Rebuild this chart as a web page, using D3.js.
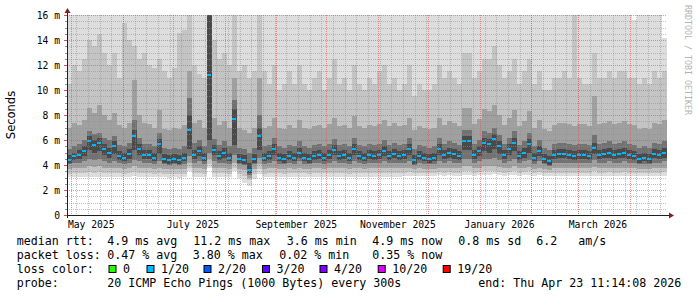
<!DOCTYPE html>
<html><head><meta charset="utf-8">
<script src="https://cdn.jsdelivr.net/npm/d3@7"></script>
<style>
html,body{margin:0;padding:0;background:#fff;}
svg{display:block;}
</style></head><body>
<svg id="chart" width="697" height="297"></svg>
<script>
// ---- data (ms), one value per 3-day step, 28 Apr 2025 -> 23 Apr 2026 ----
const stepDays = 3;
const median = [
4.4,4.7,4.8,5.1,5.9,5.6,5.8,5.3,5.0,5.5,
4.7,4.6,4.9,6.3,5.3,4.8,4.8,4.6,5.7,4.5,
4.4,4.5,4.4,4.6,6.8,4.8,5.1,4.6,11.2,5.2,
4.7,5.0,4.6,7.7,4.5,4.4,3.6,4.5,6.3,4.6,
4.7,5.3,4.6,4.5,4.7,4.6,5.0,4.6,4.5,4.7,
4.8,4.6,4.8,5.2,4.7,4.8,4.6,5.3,4.7,4.6,
4.8,4.7,4.8,5.1,4.7,4.9,4.7,4.8,5.3,4.4,
4.7,4.6,4.5,4.6,5.3,4.8,5.0,4.9,4.7,5.9,
5.9,4.8,5.1,5.8,5.7,6.1,5.5,4.8,5.3,5.8,
4.7,5.0,5.7,4.6,5.1,4.5,4.3,4.8,4.9,4.9,
4.8,4.7,4.8,4.8,4.7,5.4,4.8,4.9,5.0,4.8,
4.9,5.0,4.8,4.7,4.5,4.6,4.5,4.9,4.8,5.0];
const pMax = [
17,17,17,17,17,17,17,17,17,17, 17,17,17,17,17,17,17,17,17,17,
17,17,17,17,17,17,17,17,17,17, 17,17,17,17,17,17,17,17,17,17,
17,17,17,17,17,17,17,17,17,17, 17,17,17,17,17,17,17,17,17,17,
17,17,17,17,17,17,17,17,17,17, 17,17,17,17,17,17,17,17,17,17,
17,17,17,17,17,17,17,17,17,17, 17,17,17,17,17,17,17,17,17,17,
17,17,17,17,17,17,17,17,17,17, 17,17,17,15.6,17,17,17,17,17,14.2];
const pHi2 = [
10.5,12.0,11.5,12.5,14.0,13.5,14.5,13.0,12.0,13.0,
11.0,15.4,14.0,13.5,12.5,13.0,12.0,11.8,12.5,11.5,
11.0,11.8,14.6,14.8,16.5,12.0,11.3,11.0,16.5,14.0,
12.5,13.0,12.0,16.5,11.5,12.0,11.0,11.5,16.5,11.5,
10.5,12.0,10.0,10.5,11.5,10.5,12.0,10.5,10.0,11.0,
11.5,10.0,11.0,12.5,10.5,11.0,10.0,12.0,10.5,10.0,
11.0,10.5,11.5,12.0,10.5,11.0,10.0,10.5,12.0,9.5,
10.5,10.0,10.0,10.5,12.0,11.0,11.5,11.0,10.5,13.0,
13.0,11.0,11.5,12.5,12.5,13.5,12.0,11.0,11.5,12.5,
10.5,11.5,12.5,10.5,11.5,10.0,10.0,11.0,11.0,11.5,
11.0,16.5,11.0,10.5,10.5,13.0,11.0,11.0,11.5,11.0,
11.5,11.5,11.0,11.0,10.5,11.0,10.5,11.5,11.0,11.5];
const pHi3 = [
7.0,7.4,7.2,7.6,8.6,8.2,8.8,8.0,7.6,8.2,
7.2,7.0,7.4,10.8,8.0,7.4,7.3,7.0,8.4,6.9,
6.8,7.0,6.9,7.2,11.5,7.4,7.6,7.0,16.5,7.8,
7.2,7.5,7.0,11.0,7.0,6.8,6.6,7.0,11.0,7.0,
7.1,7.8,7.0,6.9,7.2,7.0,7.6,7.0,6.9,7.1,
7.2,7.0,7.3,7.8,7.1,7.2,7.0,7.9,7.1,7.0,
7.2,7.1,7.3,7.6,7.1,7.4,7.1,7.2,7.8,6.8,
7.1,7.0,6.9,7.0,7.8,7.2,7.5,7.4,7.1,8.6,
8.6,7.3,7.7,8.5,8.3,8.8,8.0,7.2,7.8,8.4,
7.1,7.5,8.3,7.0,7.6,6.9,6.7,7.2,7.4,7.4,
7.3,7.1,7.3,7.3,7.1,9.5,7.3,7.4,7.5,7.3,
7.4,7.5,7.3,7.2,6.9,7.0,6.9,7.4,7.3,7.6];
const pHi4 = [
5.3,5.5,5.7,6.0,6.7,6.5,6.6,6.2,6.0,6.3,
5.6,5.5,5.8,7.6,6.2,5.7,5.7,5.5,6.6,5.4,
5.3,5.4,5.3,5.5,9.4,5.8,6.0,5.5,16.5,6.1,
5.6,5.9,5.5,9.2,5.4,5.3,5.0,5.4,8.0,5.5,
5.6,6.2,5.5,5.4,5.6,5.5,5.9,5.5,5.4,5.6,
5.7,5.5,5.7,6.1,5.6,5.7,5.5,6.2,5.6,5.5,
5.7,5.6,5.7,6.0,5.6,5.8,5.6,5.7,6.2,5.3,
5.6,5.5,5.4,5.5,6.2,5.7,5.9,5.8,5.6,6.8,
6.8,5.7,6.0,6.7,6.6,7.0,6.4,5.7,6.2,6.7,
5.6,5.9,6.6,5.5,6.0,5.4,5.2,5.7,5.8,5.8,
5.7,5.6,5.7,5.7,5.6,6.4,5.7,5.8,5.9,5.7,
5.8,5.9,5.7,5.6,5.4,5.5,5.4,5.8,5.7,5.9];
const pHi5 = [
4.8,5.0,5.2,5.5,6.3,6.0,6.2,5.7,5.4,5.9,
5.1,5.0,5.3,6.8,5.7,5.2,5.2,5.0,6.1,4.9,
4.8,4.9,4.8,5.0,8.0,5.2,5.5,5.0,16.5,5.6,
5.1,5.4,5.0,8.5,4.9,4.8,4.2,4.9,7.0,5.0,
5.1,5.7,5.0,4.9,5.1,5.0,5.4,5.0,4.9,5.1,
5.2,5.0,5.2,5.6,5.1,5.2,5.0,5.7,5.1,5.0,
5.2,5.1,5.2,5.5,5.1,5.3,5.1,5.2,5.7,4.8,
5.1,5.0,4.9,5.0,5.7,5.2,5.4,5.3,5.1,6.3,
6.3,5.2,5.5,6.2,6.1,6.5,5.9,5.2,5.7,6.2,
5.1,5.4,6.1,5.0,5.5,4.9,4.7,5.2,5.3,5.3,
5.2,5.1,5.2,5.2,5.1,5.8,5.2,5.3,5.4,5.2,
5.3,5.4,5.2,5.1,4.9,5.0,4.9,5.3,5.2,5.4];
const pLo5 = [
4.2,4.4,4.5,4.7,5.2,5.0,5.1,4.8,4.6,4.9,
4.4,4.3,4.5,5.2,4.8,4.5,4.5,4.3,4.9,4.2,
4.1,4.2,4.1,4.3,5.3,4.5,4.7,4.3,6.0,4.8,
4.4,4.6,4.3,5.6,4.2,4.1,3.4,4.2,5.2,4.3,
4.4,4.8,4.3,4.2,4.4,4.3,4.6,4.3,4.2,4.4,
4.5,4.3,4.5,4.8,4.4,4.5,4.3,4.8,4.4,4.3,
4.5,4.4,4.5,4.7,4.4,4.6,4.4,4.5,4.8,4.1,
4.4,4.3,4.2,4.3,4.8,4.5,4.6,4.5,4.4,5.2,
5.2,4.5,4.7,5.1,5.0,5.3,4.9,4.5,4.8,5.1,
4.4,4.6,5.0,4.3,4.7,4.2,4.0,4.5,4.6,4.6,
4.5,4.4,4.5,4.5,4.4,4.9,4.5,4.6,4.6,4.5,
4.6,4.6,4.5,4.4,4.2,4.3,4.2,4.6,4.5,4.6];
const pLo4 = [
4.1,4.2,4.2,4.3,4.5,4.4,4.5,4.3,4.2,4.3,
4.2,4.1,4.2,4.4,4.3,4.2,4.2,4.1,4.3,4.1,
4.0,4.1,4.0,4.1,4.7,4.2,4.3,4.1,5.0,4.3,
4.2,4.2,4.1,4.8,4.1,4.0,3.2,4.1,4.6,4.1,
4.2,4.3,4.1,4.1,4.2,4.1,4.3,4.1,4.1,4.2,
4.2,4.1,4.2,4.3,4.2,4.2,4.1,4.3,4.2,4.1,
4.2,4.2,4.2,4.3,4.2,4.2,4.2,4.2,4.3,4.0,
4.2,4.1,4.1,4.1,4.3,4.2,4.3,4.2,4.2,4.5,
4.5,4.2,4.3,4.5,4.5,4.6,4.4,4.2,4.3,4.5,
4.2,4.3,4.4,4.1,4.3,4.1,3.9,4.2,4.2,4.2,
4.2,4.2,4.2,4.2,4.2,4.4,4.2,4.2,4.3,4.2,
4.2,4.3,4.2,4.2,4.1,4.1,4.1,4.2,4.2,4.3];
const pLo3 = [
3.7,3.75,3.75,3.8,3.9,3.85,3.9,3.8,3.75,3.8,
3.75,3.7,3.75,3.9,3.8,3.75,3.75,3.7,3.8,3.7,
3.65,3.7,3.65,3.7,4.2,3.75,3.8,3.7,4.5,3.8,
3.75,3.75,3.7,4.2,3.7,3.6,3.0,3.7,4.1,3.7,
3.75,3.8,3.7,3.7,3.75,3.7,3.8,3.7,3.7,3.75,
3.75,3.7,3.75,3.8,3.75,3.75,3.7,3.8,3.75,3.7,
3.75,3.75,3.75,3.8,3.75,3.75,3.75,3.75,3.8,3.65,
3.75,3.7,3.7,3.7,3.8,3.75,3.8,3.75,3.75,3.9,
3.9,3.75,3.8,3.9,3.9,3.95,3.85,3.75,3.8,3.9,
3.75,3.8,3.85,3.7,3.8,3.7,3.6,3.75,3.75,3.75,
3.75,3.75,3.75,3.75,3.75,3.85,3.75,3.75,3.8,3.75,
3.75,3.8,3.75,3.75,3.7,3.7,3.7,3.75,3.75,3.8];
const pLo2 = [
3.3,3.35,3.35,3.4,3.45,3.4,3.45,3.4,3.35,3.4,
3.35,3.3,3.35,3.45,3.4,3.35,3.35,3.3,3.4,3.3,
3.3,3.3,3.3,3.3,3.8,3.35,3.4,3.3,4.1,3.4,
3.35,3.35,3.3,3.8,3.3,3.1,2.8,3.3,3.7,3.3,
3.35,3.4,3.35,3.3,3.35,3.35,3.4,3.35,3.3,3.35,
3.35,3.35,3.35,3.4,3.35,3.35,3.3,3.4,3.35,3.35,
3.35,3.35,3.35,3.4,3.35,3.35,3.35,3.4,3.45,3.35,
3.4,3.4,3.4,3.4,3.45,3.4,3.45,3.4,3.4,3.5,
3.5,3.4,3.45,3.5,3.5,3.55,3.45,3.4,3.45,3.5,
3.4,3.45,3.5,3.4,3.45,3.4,3.35,3.4,3.4,3.4,
3.4,3.4,3.4,3.4,3.4,3.5,3.4,3.4,3.45,3.4,
3.4,3.45,3.4,3.4,3.35,3.35,3.35,3.4,3.4,3.45];
const pMin = [
3.05,3.05,3.05,3.05,3.05,3.05,3.05,3.05,3.05,3.05,
3.05,3.05,3.05,3.1,3.05,3.05,3.05,3.05,3.05,3.05,
3.0,3.05,3.0,3.05,3.5,3.05,3.05,3.05,3.8,3.05,
3.05,3.05,3.05,3.5,3.0,2.6,2.3,2.9,3.3,3.05,
3.05,3.05,3.05,3.05,3.05,3.05,3.05,3.05,3.05,3.05,
3.05,3.05,3.05,3.05,3.05,3.05,3.05,3.05,3.05,3.05,
3.05,3.05,3.05,3.05,3.05,3.05,3.05,3.15,3.15,3.1,
3.15,3.15,3.15,3.15,3.2,3.15,3.2,3.15,3.15,3.2,
3.2,3.15,3.2,3.2,3.2,3.25,3.2,3.15,3.2,3.2,
3.15,3.2,3.2,3.15,3.2,3.15,3.1,3.15,3.15,3.15,
3.15,3.15,3.15,3.15,3.15,3.15,3.15,3.15,3.15,3.15,
3.15,3.15,3.15,3.15,3.15,3.15,3.15,3.15,3.15,3.15];

const yTicks = [0,2,4,6,8,10,12,14,16];
const yTickLabels = ["0","2 m","4 m","6 m","8 m","10 m","12 m","14 m","16 m"];
const lossColors = ["#26ff00","#00b8ff","#0059ff","#5e00ff","#7e00ff","#dd00ff","#ff0000"];
const lossLabels = ["0","1/20","2/20","3/20","4/20","10/20","19/20"];
const legendRtt = ["median rtt:","4.9 ms avg","11.2 ms max","3.6 ms min","4.9 ms now","0.8 ms sd","6.2","am/s"];
const legendLoss = ["packet loss:","0.47 % avg","3.80 % max","0.02 % min","0.35 % now"];
const probeText = ["probe:","20 ICMP Echo Pings (1000 Bytes) every 300s","end: Thu Apr 23 11:14:08 2026"];
const smokeColors = ["#dddddd","#c4c4c4","#a0a0a0","#727272","#4a4a4a"];
const medianColor = "#00b8ff";

// ---- layout ----
const svg = d3.select("#chart");
const X0 = 67, X1 = 667, YT = 15, YB = 215;
const DAY = 864e5;
const start = new Date(2025,3,28,11,14,8);
const end = new Date(+start + median.length*stepDays*DAY);
const x = d3.scaleTime().domain([start,end]).range([X0,X1]);
const y = d3.scaleLinear().domain([0,16]).range([YB,YT]);
const edges = d3.range(median.length+1).map(i => new Date(+start + i*stepDays*DAY));

svg.append("defs").append("clipPath").attr("id","plot")
  .append("rect").attr("x",X0).attr("y",YT).attr("width",X1-X0).attr("height",YB-YT);

const mono = "'DejaVu Sans Mono', monospace";
const g = svg.append("g").attr("clip-path","url(#plot)");

// smoke bands, outer to inner
const bands = [[pMin,pMax],[pLo2,pHi2],[pLo3,pHi3],[pLo4,pHi4],[pLo5,pHi5]];
bands.forEach((b,k) => {
  const n = median.length;
  const pts = edges.map((d,i) => ({d, lo: b[0][Math.min(i,n-1)], hi: b[1][Math.min(i,n-1)]}));
  const area = d3.area().curve(d3.curveStepAfter)
    .x(p => x(p.d)).y0(p => y(p.lo)).y1(p => y(p.hi));
  g.append("path").datum(pts).attr("d",area).attr("fill",smokeColors[k]).attr("shape-rendering","crispEdges");
});

// median marks
g.selectAll("rect.med").data(median).join("rect").attr("class","med")
  .attr("x",(v,i)=>x(edges[i])).attr("width",(v,i)=>x(edges[i+1])-x(edges[i])-1)
  .attr("y",v=>Math.round(y(v))-1).attr("height",2).attr("fill",medianColor);

// grid (on top)
const grid = svg.append("g");
const minorY = d3.range(0,16.01,0.5).filter(v => v%2 !== 0);
grid.selectAll("line.hmin").data(minorY).join("line")
  .attr("x1",X0).attr("x2",X1).attr("y1",v=>Math.round(y(v))+0.5).attr("y2",v=>Math.round(y(v))+0.5)
  .attr("stroke","#8f8f8f").attr("stroke-opacity",0.55).attr("stroke-dasharray","1,1");
const weeks = d3.timeWeek.range(start,end);
grid.selectAll("line.vmin").data(weeks).join("line")
  .attr("x1",d=>Math.round(x(d))+0.5).attr("x2",d=>Math.round(x(d))+0.5).attr("y1",YT).attr("y2",YB)
  .attr("stroke","#8f8f8f").attr("stroke-opacity",0.55).attr("stroke-dasharray","1,1");
grid.selectAll("line.hmaj").data(yTicks.filter(v=>v>0)).join("line")
  .attr("x1",X0).attr("x2",X1).attr("y1",v=>Math.round(y(v))+0.5).attr("y2",v=>Math.round(y(v))+0.5)
  .attr("stroke","#de4f4f").attr("stroke-opacity",0.6).attr("stroke-dasharray","1,1");
const months = d3.timeMonth.range(start,end);
grid.selectAll("line.vmaj").data(months).join("line")
  .attr("x1",d=>Math.round(x(d))+0.5).attr("x2",d=>Math.round(x(d))+0.5).attr("y1",YT).attr("y2",YB)
  .attr("stroke","#de4f4f").attr("stroke-opacity",0.6).attr("stroke-dasharray","1,1");

// axes
const ax = svg.append("g");
ax.append("line").attr("x1",X0-3).attr("x2",X1+3).attr("y1",YB+0.5).attr("y2",YB+0.5).attr("stroke","#1f1f1f");
ax.append("line").attr("x1",X0+0.5).attr("x2",X0+0.5).attr("y1",YB+3).attr("y2",YT-3).attr("stroke","#1f1f1f");
ax.append("path").attr("d",`M${X1+2},${YB-2.5}L${X1+7},${YB+0.5}L${X1+2},${YB+3.5}Z`).attr("fill","#801f1f");
ax.append("path").attr("d",`M${X0-2.5},${YT-2}L${X0+0.5},${YT-7}L${X0+3.5},${YT-2}Z`).attr("fill","#801f1f");
ax.selectAll("line.yt").data(yTicks).join("line")
  .attr("x1",X0-3).attr("x2",X0).attr("y1",v=>Math.round(y(v))+0.5).attr("y2",v=>Math.round(y(v))+0.5)
  .attr("stroke","#de4f4f");
ax.selectAll("line.ytm").data(minorY).join("line")
  .attr("x1",X0-2).attr("x2",X0).attr("y1",v=>Math.round(y(v))+0.5).attr("y2",v=>Math.round(y(v))+0.5)
  .attr("stroke","#8f8f8f");

ax.selectAll("text.yl").data(yTicks).join("text")
  .attr("x",60).attr("y",v=>y(v)+3.5).attr("text-anchor","end")
  .attr("font-family",mono).attr("font-size","9.7px").attr("fill","#000")
  .text((v,i)=>yTickLabels[i]);

const labelMonths = d3.timeMonth.every(2).range(start,end);
const fmt = d3.timeFormat("%B %Y");
ax.selectAll("text.xl").data(labelMonths).join("text")
  .attr("x",d=>x(d3.timeDay.offset(d,12))).attr("y",228).attr("text-anchor","middle")
  .attr("font-family",mono).attr("font-size","9.7px").attr("fill","#000")
  .text(d=>fmt(d));

svg.append("text").attr("transform","translate(15,115) rotate(-90)")
  .attr("text-anchor","middle").attr("font-family","'DejaVu Sans', sans-serif").attr("font-size","11.5px")
  .text("Seconds");
svg.append("text").attr("transform","translate(685,5) rotate(90)")
  .attr("font-family",mono).attr("font-size","8.3px").attr("fill","#b4b4b4")
  .text("RRDTOOL / TOBI OETIKER");

// legend
const lg = svg.append("g").attr("font-family",mono).attr("font-size","11.63px").attr("fill","#000")
  .style("white-space","pre");
const rttX = [16.7,107.3,193.3,286.7,372.3,458.3,536.3,578.3];
legendRtt.forEach((t,i)=>lg.append("text").attr("x",rttX[i]).attr("y",245).text(t));
const lossX = [16.7,107.3,192.7,279.3,372.3];
legendLoss.forEach((t,i)=>lg.append("text").attr("x",lossX[i]).attr("y",259).text(t));
lg.append("text").attr("x",16.7).attr("y",273).text("loss color:");
const boxX = [108.5,146.5,203.5,262,319.5,377.7,442.7];
lossColors.forEach((c,i)=>{
  lg.append("rect").attr("x",boxX[i]+0.5).attr("y",265.5).attr("width",7).attr("height",7)
    .attr("fill",c).attr("stroke","#000").attr("stroke-width",1);
  lg.append("text").attr("x",boxX[i]+14.5).attr("y",273).text(lossLabels[i]);
});
const probeX = [16.7,107.3,478.3];
probeText.forEach((t,i)=>lg.append("text").attr("x",probeX[i]).attr("y",287).text(t));
</script>
</body></html>
